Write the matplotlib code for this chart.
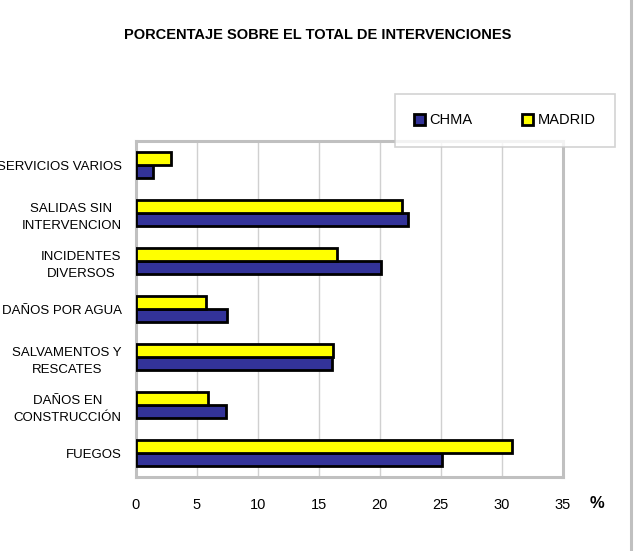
import numpy as np
import matplotlib.pyplot as plt
from matplotlib.lines import Line2D

plt.rcParams['font.family'] = ['Liberation Sans', 'DejaVu Sans']

# data (bottom to top)
categories = ['FUEGOS', 'DAÑOS EN\nCONSTRUCCIÓN', 'SALVAMENTOS Y\nRESCATES', 'DAÑOS POR AGUA',
              'INCIDENTES\nDIVERSOS', 'SALIDAS SIN\nINTERVENCION', 'SERVICIOS VARIOS']
chma = [25.1, 7.45, 16.1, 7.5, 20.1, 22.3, 1.4]
madrid = [30.8, 5.95, 16.2, 5.8, 16.5, 21.8, 2.9]
xticks = [0, 5, 10, 15, 20, 25, 30, 35]

fig = plt.figure(figsize=(6.37, 5.51), dpi=100)
ax = fig.add_axes([135.5/637, 1-477/551, (563-135.5)/637, (477-141)/551])

y = np.arange(len(categories))
h = 0.28
ax.barh(y - h/2, chma, height=h, color='#333399', edgecolor='black', linewidth=2,
        label='CHMA', zorder=3)
ax.barh(y + h/2, madrid, height=h, color='#ffff00', edgecolor='black', linewidth=2,
        label='MADRID', zorder=3)

ax.set_xlim(0, 35)
ax.set_ylim(-0.5, len(categories) - 0.5)
ax.set_xticks(xticks)
ax.set_yticks(y)
ax.set_yticklabels(categories, fontsize=9.5, multialignment='center', linespacing=1.6)
ax.tick_params(axis='x', length=0, pad=15, labelsize=10.5)
ax.tick_params(axis='y', length=0, pad=10)
ax.grid(axis='x', color='#d0d0d0', linewidth=1, zorder=0)
for s in ax.spines.values():
    s.set_color('#c0c0c0')
    s.set_linewidth(2.2)

fig.text(318/637, 1-35/551, 'PORCENTAJE SOBRE EL TOTAL DE INTERVENCIONES',
         ha='center', va='center', fontsize=10.5, fontweight='bold')
fig.text(597/637, 1-504/551, '%', ha='center', va='center', fontsize=12, fontweight='bold')

leg = fig.legend(loc='center', bbox_to_anchor=(505/637, 1-120.5/551),
                 ncol=2, fontsize=10.5, frameon=True, fancybox=False,
                 handlelength=0.75, handleheight=0.75, handletextpad=0.3,
                 columnspacing=3.4, borderpad=1.35, borderaxespad=0)
leg.get_frame().set_edgecolor('#c8c8c8')
leg.get_frame().set_linewidth(1.2)

fig.add_artist(Line2D([631/637, 631/637], [0, 1], color='#c0c0c0', linewidth=2.2,
                      transform=fig.transFigure))

fig.savefig('out.png', dpi=100)
